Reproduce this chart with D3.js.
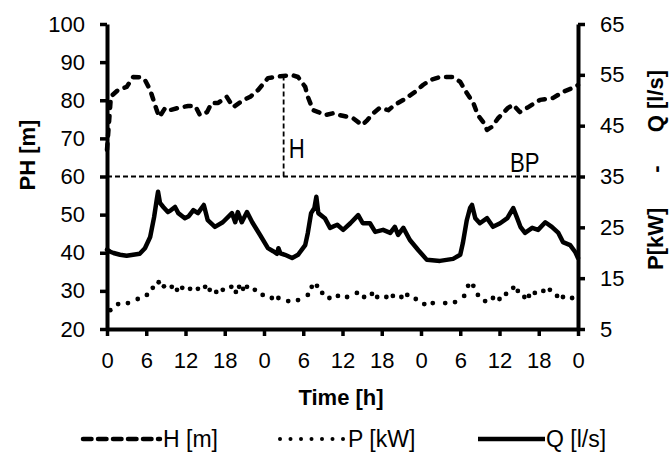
<!DOCTYPE html>
<html>
<head>
<meta charset="utf-8">
<script src="https://cdn.jsdelivr.net/npm/d3@7"></script>
<style>
  html, body { margin: 0; padding: 0; background: #fff; }
  svg { display: block; font-family: "Liberation Sans", Arial, sans-serif; }
</style>
</head>
<body>
<svg id="chart" width="671" height="455"></svg>
<script>
// ---- data ----
const xTickValues = [0, 6, 12, 18, 24, 30, 36, 42, 48, 54, 60, 66, 72];
const xTickLabels = ["0", "6", "12", "18", "0", "6", "12", "18", "0", "6", "12", "18", "0"];
const leftTicks = [20, 30, 40, 50, 60, 70, 80, 90, 100];
const rightTicks = [5, 15, 25, 35, 45, 55, 65];

// H [m] (left axis)
const hTime = [0, 0.3, 0.6, 1.7, 3, 4, 5.3, 5.8, 6.6, 7, 7.6, 8, 8.9, 9.6, 10.9, 12.4, 13.5, 14.2, 15.3, 16, 17, 18.3, 19.3, 20.8, 21.9, 23.1, 24.6, 26.5, 28.3, 29.2, 30.3, 30.7, 31.5, 32.3, 33.3, 34.6, 35.6, 36.9, 37.6, 39, 39.8, 40.7, 41.7, 43, 44, 45.3, 47.1, 48.3, 49.4, 50.9, 52.9, 54, 55, 56, 56.7, 57.5, 58.1, 58.8, 59.8, 61.3, 62.1, 63.1, 64.4, 66.2, 68.2, 69.7, 71.6, 72];
const hValues = [67, 74, 81, 82.7, 83.5, 86.1, 86, 85.3, 82.7, 80.6, 77.4, 75.6, 78, 77.4, 78, 78.5, 78.5, 76.1, 76.9, 79.3, 79.3, 80.9, 78.2, 80, 80.9, 82.7, 85.8, 86.3, 86.6, 86.1, 83.5, 80.9, 77.4, 76.9, 76.1, 76.6, 76.1, 75.6, 75.3, 73.5, 74.8, 76.6, 78, 77.4, 78.8, 80.1, 82.2, 84, 85.3, 86.1, 86.1, 84.8, 81.9, 79.3, 76.1, 74.3, 72.2, 73, 75.3, 78, 78.8, 76.9, 78.2, 80.1, 80.6, 82.2, 83.5, 84];

// Q [l/s] (right axis)
const qTime = [0, 0.5, 1, 2, 3, 4, 5, 5.8, 6.6, 7.2, 7.6, 7.8, 8.1, 8.6, 9.3, 9.8, 10.4, 10.9, 11.9, 12.5, 13.2, 13.9, 14.8, 15.4, 16.5, 17.7, 19.1, 19.6, 20, 20.6, 21.4, 22.2, 23.4, 24.6, 25.4, 26, 26.2, 26.5, 27.2, 28.3, 29.2, 30.3, 30.7, 31.2, 31.7, 32, 32.3, 33.3, 34.1, 35.2, 36.1, 37.2, 38.4, 39.1, 40.2, 41, 42.2, 43.3, 44, 44.5, 45.3, 46.3, 47.6, 48.9, 50.9, 52.9, 54, 54.4, 55, 55.5, 55.8, 56.3, 57, 58.1, 59, 60.1, 61.2, 62.1, 62.7, 63.2, 63.9, 65, 65.9, 67, 68, 69, 69.7, 70.8, 71.6, 72];
const qValues = [20.6, 20.2, 19.95, 19.6, 19.4, 19.6, 19.8, 20.9, 23.1, 27, 30.4, 32, 29.8, 29, 28, 28.4, 29, 27.8, 26.8, 27.2, 28.4, 27.8, 29.4, 26.4, 25.1, 26, 27.8, 26, 28, 26, 28, 26, 23.5, 20.9, 20.3, 19.8, 20.9, 19.9, 19.6, 18.96, 19.6, 21.5, 23.9, 27.8, 28.8, 31, 27.8, 26.8, 24.9, 25.5, 24.5, 25.8, 27.4, 25.8, 25.8, 24.1, 24.5, 23.9, 25.1, 23.5, 24.9, 22.5, 20.5, 18.6, 18.4, 18.8, 19.6, 21.9, 26.4, 28.8, 29.4, 26.8, 25.8, 26.8, 25.1, 25.8, 26.8, 28.8, 26.8, 25.1, 23.9, 24.9, 24.5, 26, 25.1, 23.9, 22.1, 21.5, 20.1, 18.96];

// P [kW] (right axis)
const pTime = [0.5, 1.7, 3.2, 4.7, 6.1, 7, 7.9, 8.7, 9.9, 10.7, 11.5, 12.7, 13.9, 15, 15.7, 16.7, 17.7, 19, 19.7, 20.2, 20.8, 21.4, 22.6, 23.8, 25.2, 26.2, 27.7, 29.2, 30.7, 31.3, 32.1, 32.9, 34, 35.3, 36.7, 38.2, 39.3, 40.5, 41.3, 42.7, 43.7, 45, 45.9, 47.2, 48.5, 49.8, 51.7, 53.2, 54.6, 55.2, 56, 56.7, 57.8, 59, 60, 61, 62.1, 62.8, 63.8, 64.5, 65.4, 66.7, 67.7, 68.8, 69.7, 71.1];
const pValues = [8.7, 9.9, 10.1, 10.9, 11.7, 13.1, 14.2, 13.4, 13.3, 12.7, 13.1, 12.9, 12.9, 13.3, 12.7, 12.3, 12.7, 13.3, 12.3, 13.3, 12.9, 13.3, 12.7, 11.7, 11.1, 11.1, 10.5, 10.7, 11.7, 13.3, 13.5, 12.1, 11.1, 11.5, 11.3, 12.1, 11.3, 11.9, 11.3, 11.3, 11.5, 11.3, 11.7, 10.9, 9.9, 10.1, 10.1, 10.3, 11.5, 13.5, 13.5, 11.7, 10.5, 11.1, 10.9, 11.9, 13.1, 12.5, 11.3, 11.5, 12.1, 12.5, 12.7, 11.5, 11.3, 11.1];

const bpLevel = 60;      // BP reference level (left axis)
const hMarkTime = 27;    // time of the H marker

// ---- layout ----
const svg = d3.select("#chart");
const X0 = 107, X1 = 578, Y0 = 329, Y1 = 24;
const x = d3.scaleLinear().domain([0, 72]).range([X0, X1]);
const yL = d3.scaleLinear().domain([20, 100]).range([Y0, Y1]);
const yR = d3.scaleLinear().domain([5, 65]).range([Y0, Y1]);

const tickFont = 22;

function styleAxis(g) {
  g.select(".domain").attr("stroke", "#000").attr("stroke-width", 4);
  g.selectAll(".tick line").attr("stroke", "#000").attr("stroke-width", 3.5);
  g.selectAll(".tick text").attr("font-size", tickFont).attr("fill", "#000")
    .attr("font-family", "'Liberation Sans', Arial, sans-serif");
}

svg.append("g").attr("transform", `translate(${X0},0)`)
  .call(d3.axisLeft(yL).tickValues(leftTicks).tickSize(7).tickSizeOuter(0).tickPadding(15))
  .call(styleAxis);

svg.append("g").attr("transform", `translate(${X1},0)`)
  .call(d3.axisRight(yR).tickValues(rightTicks).tickSize(7).tickSizeOuter(0).tickPadding(15))
  .call(styleAxis);

svg.append("g").attr("transform", `translate(0,${Y0})`)
  .call(d3.axisBottom(x).tickValues(xTickValues).tickFormat((d, i) => xTickLabels[i])
        .tickSize(7).tickSizeOuter(0).tickPadding(16))
  .call(styleAxis);

// ---- reference lines ----
const bpY = yL(bpLevel);
svg.append("line").attr("x1", x(0)).attr("x2", x(72)).attr("y1", bpY).attr("y2", bpY)
  .attr("stroke", "#000").attr("stroke-width", 1.8).attr("stroke-dasharray", "5,3");

const hInterp = d3.scaleLinear().domain(hTime).range(hValues);
svg.append("line").attr("x1", x(hMarkTime)).attr("x2", x(hMarkTime))
  .attr("y1", bpY).attr("y2", yL(hInterp(hMarkTime)))
  .attr("stroke", "#000").attr("stroke-width", 1.8).attr("stroke-dasharray", "5,3");

svg.append("text").attr("transform", `translate(${x(hMarkTime) + 5},158) scale(0.82,1)`)
  .attr("font-size", 27).text("H");
svg.append("text").attr("transform", "translate(510,172) scale(0.82,1)")
  .attr("font-size", 27).text("BP");

// ---- series ----
const hLine = d3.line().x((d, i) => x(hTime[i])).y(d => yL(d)).curve(d3.curveLinear);
svg.append("path").datum(hValues).attr("d", hLine)
  .attr("fill", "none").attr("stroke", "#000").attr("stroke-width", 4.5)
  .attr("stroke-linecap", "round").attr("stroke-linejoin", "round")
  .attr("stroke-dasharray", "6,8");

const qLine = d3.line().x((d, i) => x(qTime[i])).y(d => yR(d)).curve(d3.curveLinear);
svg.append("path").datum(qValues).attr("d", qLine)
  .attr("fill", "none").attr("stroke", "#000").attr("stroke-width", 4.5)
  .attr("stroke-linecap", "round").attr("stroke-linejoin", "round");

svg.append("g").selectAll("circle").data(pValues).join("circle")
  .attr("cx", (d, i) => x(pTime[i])).attr("cy", d => yR(d)).attr("r", 2.4).attr("fill", "#000");

// ---- titles ----
svg.append("text").attr("x", 341).attr("y", 405).attr("text-anchor", "middle")
  .attr("font-size", 22).attr("font-weight", "bold").text("Time [h]");

svg.append("text").attr("transform", "translate(27,155) rotate(-90)").attr("dy", "0.35em")
  .attr("text-anchor", "middle").attr("font-size", 22).attr("font-weight", "bold").text("PH [m]");

const rt = [["P[kW]", 270, "start"], ["-", 169, "middle"], ["Q [l/s]", 70, "end"]];
rt.forEach(([t, yy, a]) => {
  svg.append("text").attr("transform", `translate(655,${yy}) rotate(-90)`).attr("dy", "0.35em")
    .attr("text-anchor", a).attr("font-size", 22).attr("font-weight", "bold").text(t);
});

// ---- legend ----
const legY = 439, legBase = 447;
const lg = svg.append("g");
lg.append("line").attr("x1", 83).attr("x2", 160).attr("y1", legY).attr("y2", legY)
  .attr("stroke", "#000").attr("stroke-width", 4.5).attr("stroke-linecap", "round")
  .attr("stroke-dasharray", "8.5,6.5");
lg.append("text").attr("x", 163).attr("y", legBase).attr("font-size", 23).text("H [m]");

lg.append("g").selectAll("circle").data(d3.range(7)).join("circle")
  .attr("cx", d => 280 + d * 10.5).attr("cy", legY).attr("r", 2).attr("fill", "#000");
lg.append("text").attr("x", 348).attr("y", legBase).attr("font-size", 23).text("P [kW]");

lg.append("line").attr("x1", 478).attr("x2", 545).attr("y1", legY).attr("y2", legY)
  .attr("stroke", "#000").attr("stroke-width", 4.5);
lg.append("text").attr("x", 546).attr("y", legBase).attr("font-size", 23).text("Q [l/s]");
</script>
</body>
</html>
